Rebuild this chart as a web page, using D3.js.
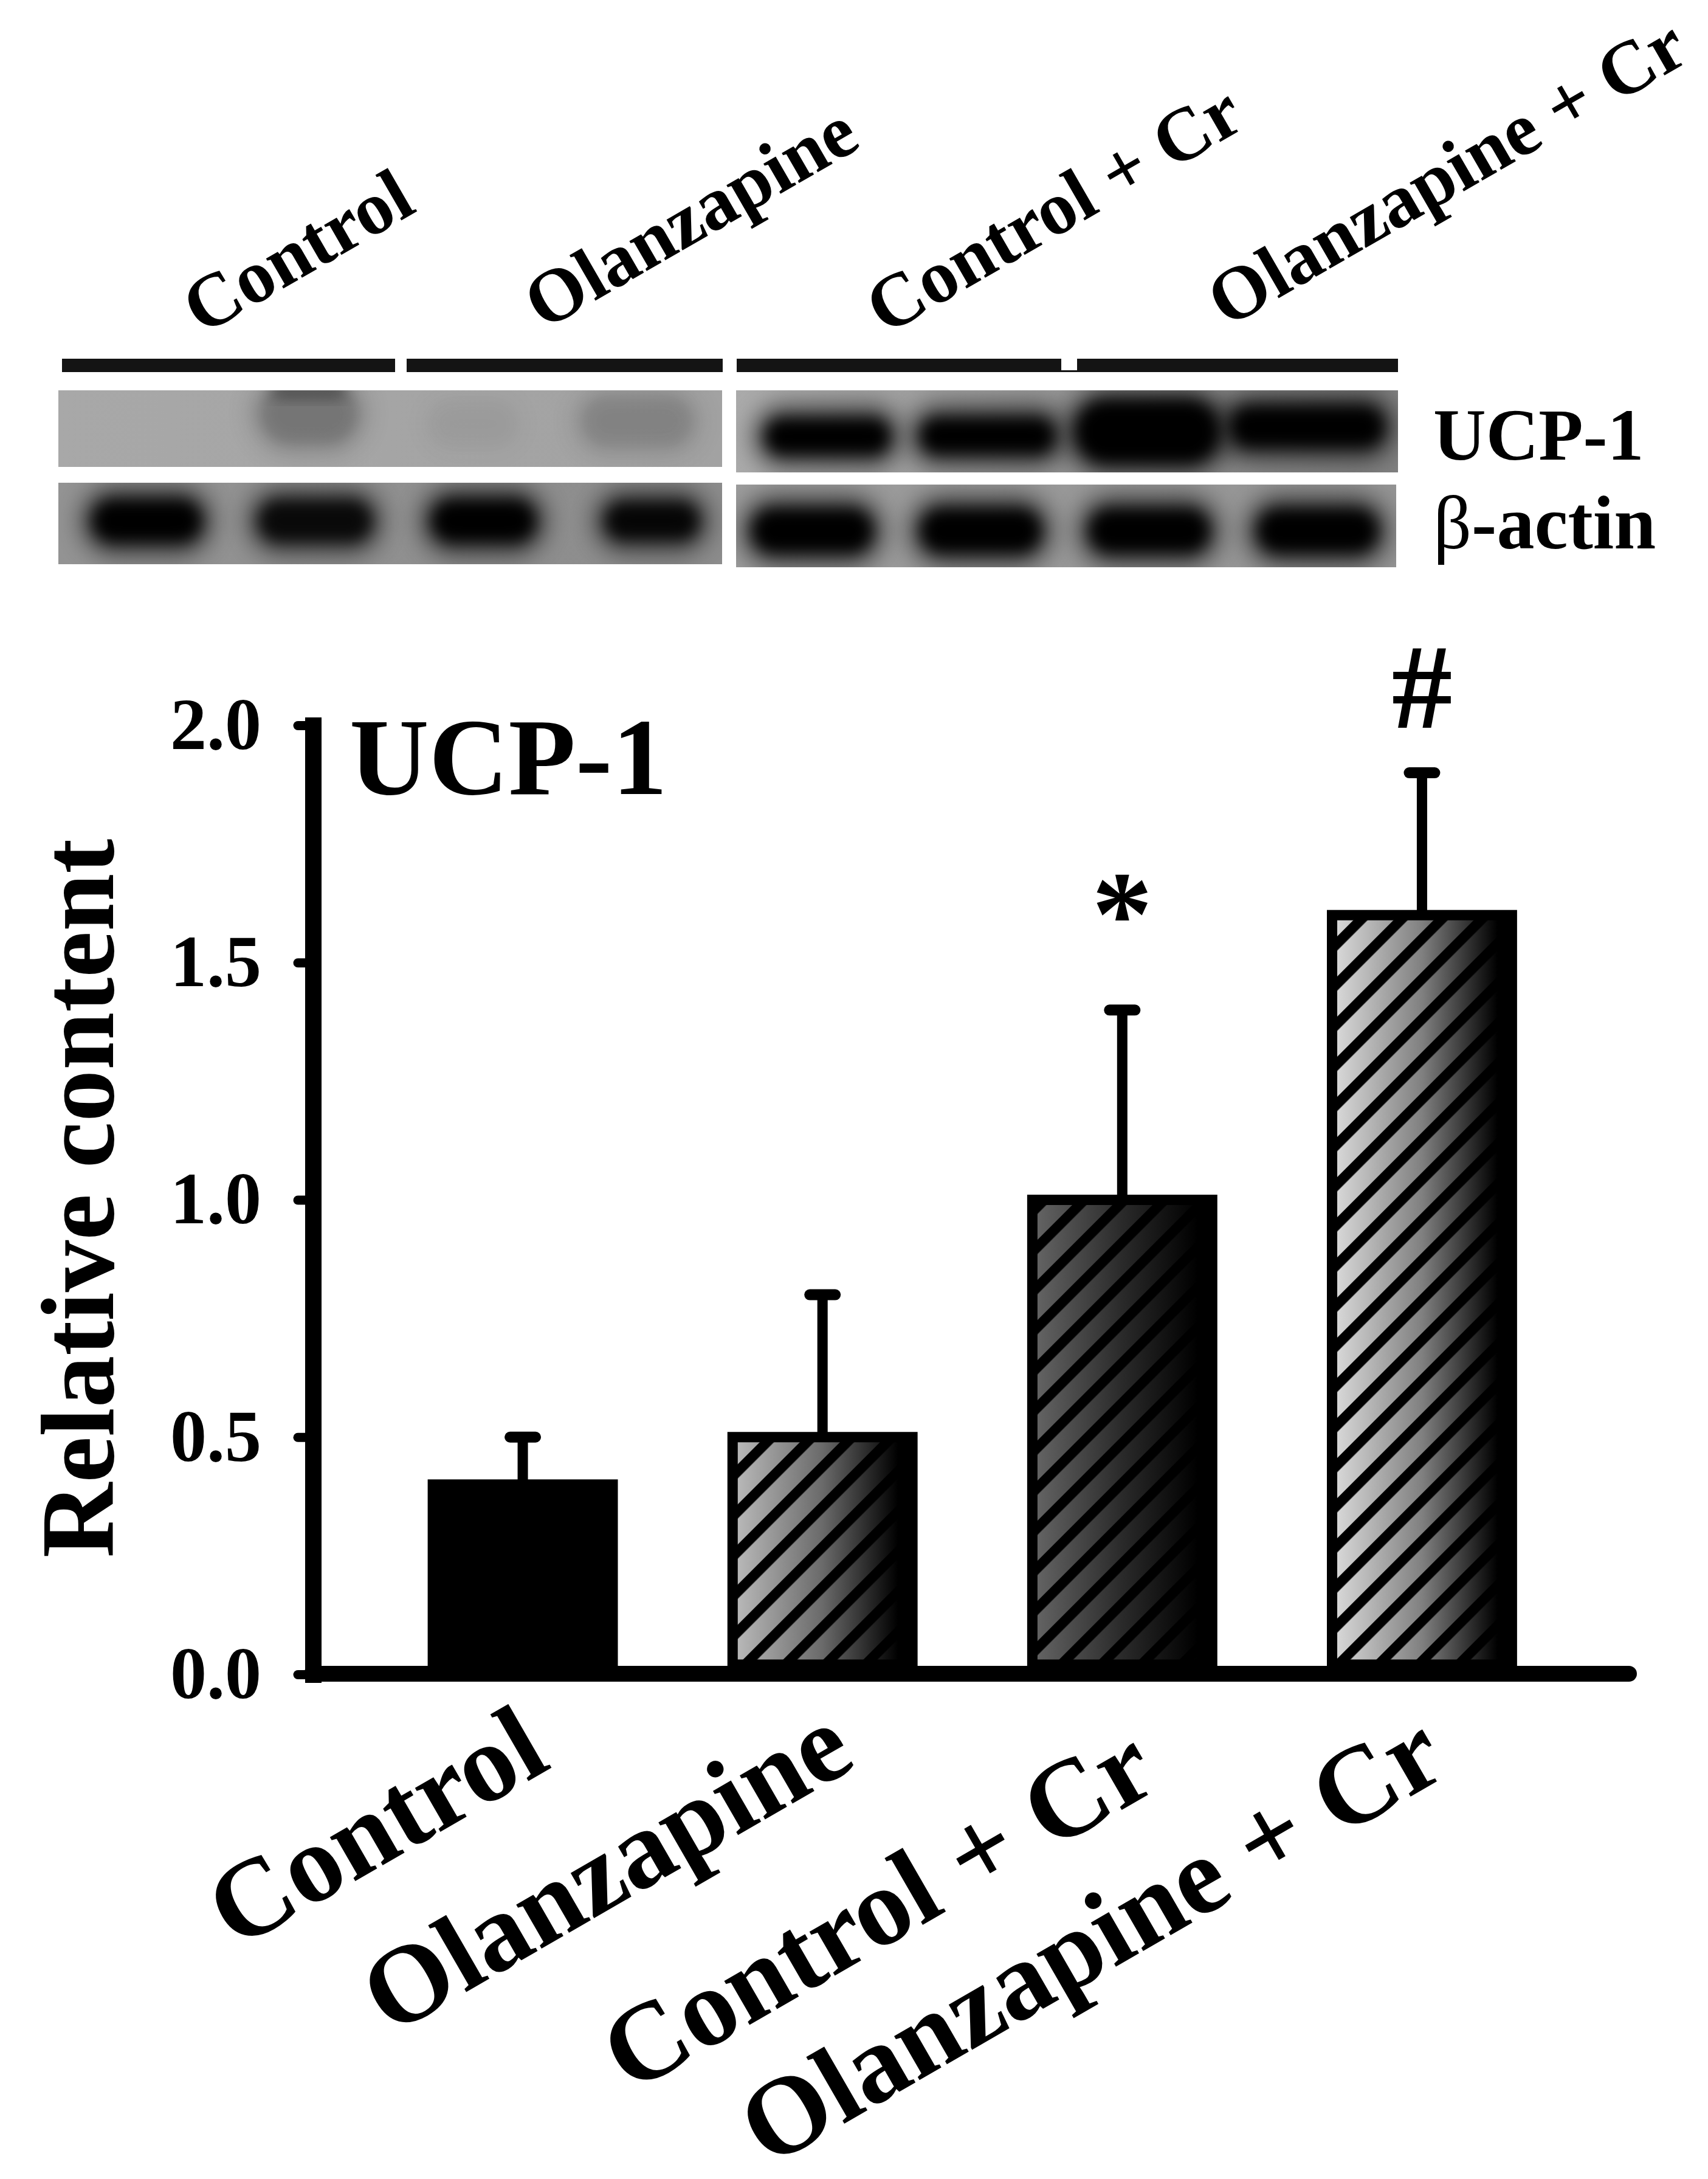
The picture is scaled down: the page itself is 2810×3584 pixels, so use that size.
<!DOCTYPE html>
<html><head><meta charset="utf-8">
<script src="https://cdnjs.cloudflare.com/ajax/libs/d3/7.8.5/d3.min.js"></script>
<style>html,body{margin:0;background:#fff}svg{display:block}text{font-family:"Liberation Serif",serif;font-weight:bold;fill:#000}</style>
</head><body><div id="c"></div>
<script>
const categories = ["Control","Olanzapine","Control + Cr","Olanzapine + Cr"];
const means = [0.4,0.5,1.0,1.6];
const upperErrors = [0.5,0.8,1.4,1.9];
const significance = ["","","*","#"];
const yTicks = [0,0.5,1.0,1.5,2.0];
const gradientStops = [["#000","#000","#000"],["#bcbcbc","#6a6a6a","#000"],["#666","#2a2a2a","#000"],["#dcdcdc","#808080","#000"]];
const gradientOffsets = [0,0.5,0.92];
const stripedBars = [false,true,true,true];
const stripePhase = [0,58,50,44];
const lanes = [0,1,2,3];
const ucpLeftSignal = [0.0,0.2,0.03,0.13];
const ucpRightSignal = [1,1,1,1];
const actinLeftSignal = [1,0.88,1,0.92];
const actinRightSignal = [1,1,1,1];

const W=2810,H=3584;
const svg=d3.select("#c").append("svg").attr("width",W).attr("height",H).attr("viewBox",`0 0 ${W} ${H}`);
svg.append("rect").attr("width",W).attr("height",H).attr("fill","#fff");
const defs=svg.append("defs");
function blur(id,s){defs.append("filter").attr("id",id).attr("x","-60%").attr("y","-100%").attr("width","220%").attr("height","300%")
  .append("feGaussianBlur").attr("stdDeviation",s);}
blur("blurCore",12); blur("blurHalo",18);

// ---------- chart ----------
const y=d3.scaleLinear().domain([0,2]).range([2754,1193]);
const x=d3.scaleBand().domain(categories).range([613.5,2586]).paddingInner(0.4).paddingOuter(0.2);
const barStroke=17, barFloor=16;
categories.forEach((c,i)=>{
  const g=defs.append("linearGradient").attr("id","grad"+i);
  g.selectAll("stop").data(gradientStops[i]).join("stop")
    .attr("offset",(d,k)=>gradientOffsets[k]).attr("stop-color",d=>d);
  defs.append("pattern").attr("id","stripes"+i).attr("patternUnits","userSpaceOnUse")
    .attr("width",46.67).attr("height",46.67).attr("patternTransform",`translate(${stripePhase[i]},0) rotate(45)`)
    .append("rect").attr("width",16.5).attr("height",46.67).attr("fill","#000");
});
const bars=svg.append("g").selectAll("g.bar").data(categories).join("g").attr("class","bar");
const cx=c=>x(c)+x.bandwidth()/2;
bars.append("line").attr("x1",cx).attr("x2",cx)
  .attr("y1",(c,i)=>y(upperErrors[i])).attr("y2",(c,i)=>y(means[i])).attr("stroke","#000").attr("stroke-width",17);
bars.append("line").attr("x1",c=>cx(c)-21).attr("x2",c=>cx(c)+21)
  .attr("y1",(c,i)=>y(upperErrors[i])).attr("y2",(c,i)=>y(upperErrors[i]))
  .attr("stroke","#000").attr("stroke-width",18).attr("stroke-linecap","round");
const barRect=s=>s.attr("x",c=>x(c)).attr("width",x.bandwidth())
  .attr("y",c=>y(means[categories.indexOf(c)])).attr("height",c=>y(0)-barFloor-y(means[categories.indexOf(c)]));
bars.append("rect").call(barRect).attr("fill",(c,i)=>`url(#grad${i})`);
bars.filter(c=>stripedBars[categories.indexOf(c)]).append("rect").call(barRect)
  .attr("fill",c=>`url(#stripes${categories.indexOf(c)})`);
bars.append("rect").call(barRect).attr("fill","none").attr("stroke","#000").attr("stroke-width",barStroke);

// axes
const yAxis=d3.axisLeft(y).tickValues(yTicks).tickFormat(d3.format(".1f")).tickSize(25).tickSizeOuter(0).tickPadding(60);
const gy=svg.append("g").attr("transform","translate(515,0)").call(yAxis);
gy.select(".domain").attr("stroke","#000").attr("stroke-width",27).attr("stroke-linecap","square");
gy.selectAll(".tick line").attr("stroke","#000").attr("stroke-width",15).attr("stroke-linecap","round");
gy.selectAll("text").style("font-size","120px");
const xAxis=d3.axisBottom(x).tickSize(0).tickFormat("");
const gx=svg.append("g").attr("transform","translate(0,2753)").call(xAxis);
gx.select(".domain").attr("d","M513,0H2680").attr("stroke","#000").attr("stroke-width",26).attr("stroke-linecap","round");

// rotated category labels
const catDx=[50,59,65,47], catBase=[2906,2904,2939,2917];
svg.selectAll("text.cat").data(categories).join("text").attr("class","cat")
  .attr("text-anchor","end").style("font-size","182px")
  .attr("transform",(c,i)=>`translate(${cx(c)+catDx[i]},${catBase[i]}) rotate(-30)`).text(c=>c);
svg.append("text").attr("transform","translate(186,1971) rotate(-90)").attr("text-anchor","middle")
  .style("font-size","171px").text("Relative content");
svg.append("text").attr("x",575).attr("y",1306).style("font-size","181px").text("UCP-1");
svg.selectAll("text.sig").data(categories).join("text").attr("class","sig")
  .attr("text-anchor","middle")
  .style("font-size","200px")
  .attr("x",cx)
  .attr("y",(c,i)=>significance[i]==="*"?1570:1197).text((c,i)=>significance[i]);

// ---------- blot ----------
const panels=[
 {id:"p1",x0:96,x1:1188,y0:642,y1:768,lanes:[103,1183],signal:ucpLeftSignal,
  cy:[700,680,697,693],w:[0,150,130,170],h:[0,90,60,70],bg:["#a8a8a8","#a2a2a2"]},
 {id:"p2",x0:1211,x1:2300,y0:642,y1:777,lanes:[1230,2282],signal:ucpRightSignal,
  cy:[718,717,710,702],w:[192,208,224,240],h:[47,47,92,56],bg:["#aaaaaa","#808080"]},
 {id:"p3",x0:96,x1:1188,y0:794,y1:928,lanes:[103,1211],signal:actinLeftSignal,
  cy:[857,857,857,857],w:[166,174,157,141],h:[57,57,57,50],bg:["#939393","#8c8c8c"]},
 {id:"p4",x0:1211,x1:2297,y0:797,y1:933,lanes:[1198,2306],signal:actinRightSignal,
  cy:[873,873,873,873],w:[185,185,185,185],h:[60,60,60,60],bg:["#9c9c9c","#949494"]}
];
panels.forEach(p=>{
  const sc=d3.scaleBand().domain(lanes).range(p.lanes);
  const mid=l=>sc(l)+sc.bandwidth()/2;
  defs.append("clipPath").attr("id","clip"+p.id).append("rect")
    .attr("x",p.x0).attr("y",p.y0).attr("width",p.x1-p.x0).attr("height",p.y1-p.y0);
  const lg=defs.append("linearGradient").attr("id","bg"+p.id);
  lg.selectAll("stop").data(p.bg).join("stop").attr("offset",(d,i)=>i).attr("stop-color",d=>d);
  const g=svg.append("g").attr("clip-path",`url(#clip${p.id})`);
  g.append("rect").attr("x",p.x0).attr("y",p.y0).attr("width",p.x1-p.x0).attr("height",p.y1-p.y0).attr("fill",`url(#bg${p.id})`);
  const band=(cls,pad,op,flt)=>g.selectAll("rect."+cls).data(lanes).join("rect").attr("class",cls)
    .attr("x",l=>mid(l)-(p.w[l]+pad[0])/2).attr("width",l=>p.w[l]+pad[0])
    .attr("y",l=>p.cy[l]-(p.h[l]+pad[1])/2).attr("height",l=>p.h[l]+pad[1])
    .attr("rx",l=>(p.h[l]+pad[1])*0.5).attr("fill","#000")
    .attr("opacity",l=>p.signal[l]*op).attr("filter",`url(#${flt})`);
  band("h",[56,62],0.5,"blurHalo");
  band("c",[14,14],1,"blurCore");
  if(p.id==="p1"){
    g.append("rect").attr("x",mid(1)-60).attr("width",120).attr("y",636).attr("height",16)
      .attr("fill","#000").attr("opacity",0.5).attr("filter","url(#blurCore)");
  }
});

// header bars and rotated labels
const headers=[[102,650],[669,1189],[1212,1746],[1772,2300]];
svg.selectAll("rect.hdr").data(headers).join("rect").attr("class","hdr")
  .attr("x",d=>d[0]).attr("width",d=>d[1]-d[0]).attr("y",590).attr("height",22).attr("fill","#141414");
svg.append("rect").attr("x",1746).attr("width",26).attr("y",609).attr("height",3).attr("fill","#141414");
const headPos=d3.scaleBand().domain(categories).range([102,2350]);
const headNudge=[12,4,12,0];
svg.selectAll("text.top").data(categories).join("text").attr("class","top")
  .style("font-size","124px").attr("text-anchor","start")
  .attr("transform",(c,i)=>`translate(${headPos(c)+230},${540+headNudge[i]}) rotate(-30)`).text(c=>c);
svg.append("text").attr("x",2358).attr("y",756).style("font-size","120px").text("UCP-1");
const ba=svg.append("text").attr("x",2358).attr("y",902).style("font-size","124px");
ba.append("tspan").style("font-weight","normal").text("β");
ba.append("tspan").text("-actin");
</script></body></html>
